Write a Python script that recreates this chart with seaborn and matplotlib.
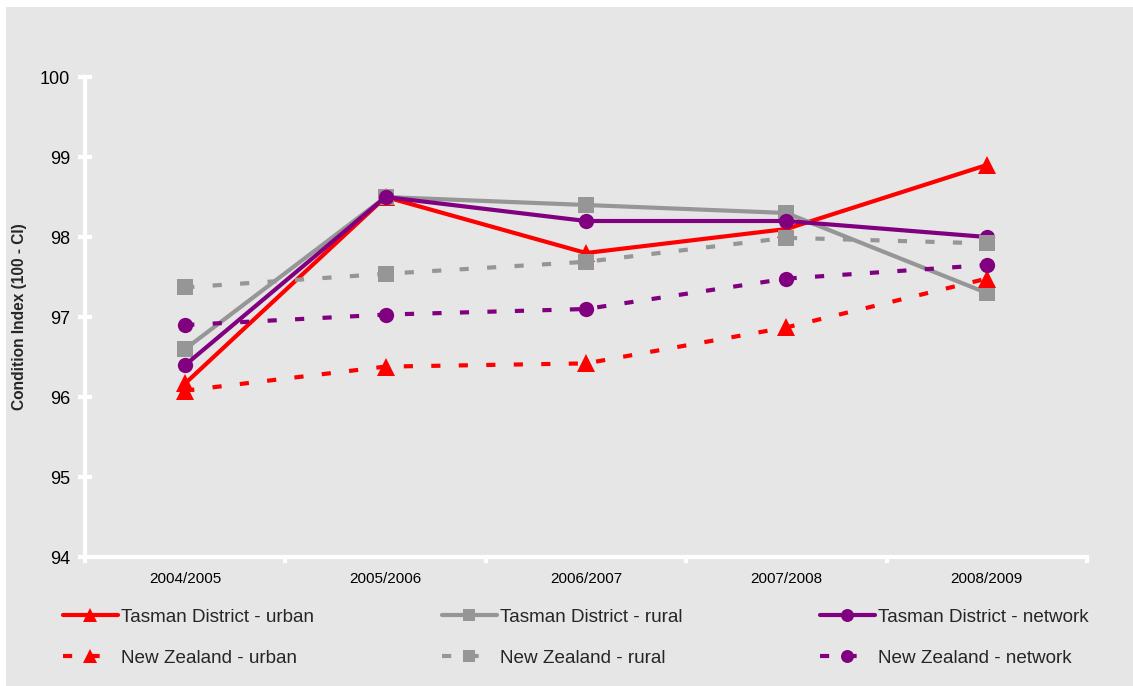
import numpy as np
import pandas as pd
import matplotlib
matplotlib.use("Agg")
import matplotlib.pyplot as plt
from matplotlib.patches import Rectangle
import seaborn as sns

# ---- data ----
years = ["2004/2005", "2005/2006", "2006/2007", "2007/2008", "2008/2009"]
tasman_urban = [96.17, 98.50, 97.80, 98.10, 98.90]
tasman_rural = [96.60, 98.50, 98.40, 98.30, 97.30]
tasman_network = [96.40, 98.50, 98.20, 98.20, 98.00]
nz_urban = [96.08, 96.38, 96.42, 96.87, 97.48]
nz_rural = [97.37, 97.54, 97.69, 97.99, 97.92]
nz_network = [96.90, 97.03, 97.10, 97.48, 97.65]

series_names = [
    "Tasman District - urban",
    "Tasman District - rural",
    "Tasman District - network",
    "New Zealand - urban",
    "New Zealand - rural",
    "New Zealand - network",
]
series_values = [tasman_urban, tasman_rural, tasman_network, nz_urban, nz_rural, nz_network]

RED = "#ff0000"
GREY = "#969696"
PURPLE = "#800080"
BG = "#e6e6e6"

palette = dict(zip(series_names, [RED, GREY, PURPLE, RED, GREY, PURPLE]))
markers = dict(zip(series_names, ["^", "s", "o", "^", "s", "o"]))
dash = (2.2, 4.4)
dashes = dict(zip(series_names, ["", "", "", dash, dash, dash]))

rows = []
for name, vals in zip(series_names, series_values):
    for i, (yr, v) in enumerate(zip(years, vals)):
        rows.append({"pos": i, "year": yr, "series": name, "value": v})
df = pd.DataFrame(rows)

# ---- style ----
sns.set_style("white")
plt.rcParams["font.family"] = ["Liberation Sans", "DejaVu Sans"]

W, H = 1133, 686
fig = plt.figure(figsize=(W / 100, H / 100), dpi=100, facecolor="white")
fig.patches.append(Rectangle((6 / W, 0), 1, 1 - 7 / H, transform=fig.transFigure,
                             facecolor=BG, edgecolor="none", zorder=-10))

left, right = 85 / W, 1087 / W
top, bottom = 1 - 77 / H, 1 - 557 / H
ax = fig.add_axes([left, bottom, right - left, top - bottom])
ax.set_facecolor(BG)

sns.lineplot(data=df, x="pos", y="value", hue="series", style="series",
             hue_order=series_names, style_order=series_names,
             palette=palette, markers=markers, dashes=dashes,
             linewidth=3, markersize=11, markeredgewidth=0,
             legend=False, sort=False, ax=ax)

lines = ax.get_lines()
for ln in lines:
    ln.set_clip_on(False)
    if ln.get_marker() == "^":
        ln.set_markersize(12.5)

ax.set_xlim(-0.5, 4.5)
ax.set_ylim(94, 100)
ax.set_yticks([94, 95, 96, 97, 98, 99, 100])
ax.set_xticks(range(len(years)))
ax.set_xticklabels(years)
ax.set_xticks(np.arange(-0.5, 4.6, 1.0), minor=True)

for s in ["top", "right"]:
    ax.spines[s].set_visible(False)
for s in ["left", "bottom"]:
    ax.spines[s].set_color("white")
    ax.spines[s].set_linewidth(3)

ax.tick_params(axis="y", which="major", direction="inout", length=10.5, width=3,
               color="white", labelsize=13, pad=5.5, labelcolor="black", left=True)
ax.tick_params(axis="x", which="major", length=0, labelsize=11, pad=11, labelcolor="black")
ax.tick_params(axis="x", which="minor", direction="out", length=4.5, width=3,
               color="white", bottom=True)

ax.set_xlabel("")
ax.set_ylabel("Condition Index (100 - CI)", fontsize=11.2, fontweight="bold")
ax.yaxis.set_label_coords(-0.058, 0.5)

# ---- legend: three columns ----
col_x = [63 / W, 442 / W, 820 / W]
yc = 1 - 637.5 / H
for c in range(3):
    hs = [lines[c], lines[c + 3]]
    labs = [series_names[c], series_names[c + 3]]
    fig.legend(hs, labs, loc="center left", bbox_to_anchor=(col_x[c], yc),
               frameon=False, fontsize=13.6, handlelength=2.9, handletextpad=0.16,
               borderpad=0, borderaxespad=0, labelspacing=1.26, markerscale=0.85,
               numpoints=1)

fig.savefig("out.png", dpi=100, facecolor=fig.get_facecolor())
